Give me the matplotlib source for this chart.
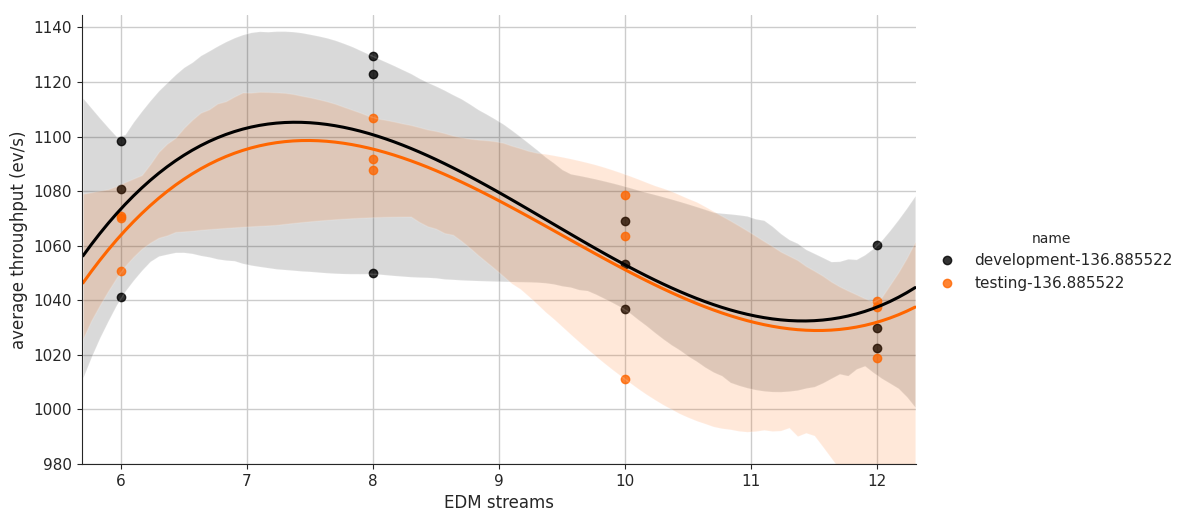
import numpy as np
import seaborn as sns
from matplotlib import pyplot as plt
from matplotlib.lines import Line2D

# EDM streams per run
dev_x = [6, 6, 6, 8, 8, 8, 10, 10, 10, 12, 12, 12]
dev_y = [1098.3, 1080.8, 1041.2, 1129.4, 1122.8, 1049.8,
         1069.1, 1053.1, 1036.7, 1060.2, 1030.0, 1022.4]

test_x = [6, 6, 6, 8, 8, 8, 10, 10, 10, 12, 12, 12]
test_y = [1070.9, 1070.0, 1050.6, 1106.9, 1091.7, 1087.6,
          1078.7, 1063.7, 1011.1, 1039.6, 1037.6, 1018.7]

names = ["development-136.885522", "testing-136.885522"]
colors = ["black", "#ff6600"]

sns.set_style("ticks")
fig, ax = plt.subplots(figsize=(11.84, 5.23), dpi=100)
fig.subplots_adjust(left=0.069, right=0.774, bottom=0.113, top=0.971)

for xs, ys, c in zip([dev_x, test_x], [dev_y, test_y], colors):
    sns.regplot(x=np.array(xs, float), y=np.array(ys), order=3, truncate=False,
                color=c, ax=ax, seed=3, n_boot=1000,
                scatter_kws={"s": 36}, line_kws={"lw": 2.2})

ax.grid(True, color="#cccccc", lw=1)
ax.set_xlim(5.69, 12.31)
ax.set_ylim(980, 1144.5)
ax.set_xlabel("EDM streams", fontsize=12)
ax.set_ylabel("average throughput (ev/s)", fontsize=12)
ax.tick_params(labelsize=11)
sns.despine(ax=ax)

handles = [Line2D([], [], marker="o", ls="", color=c, alpha=0.8, markersize=6)
           for c in colors]
fig.legend(handles, names, title="name", loc="center left",
           bbox_to_anchor=(0.775, 0.5), frameon=False, fontsize=11,
           title_fontsize=10)

plt.savefig("out.png")
